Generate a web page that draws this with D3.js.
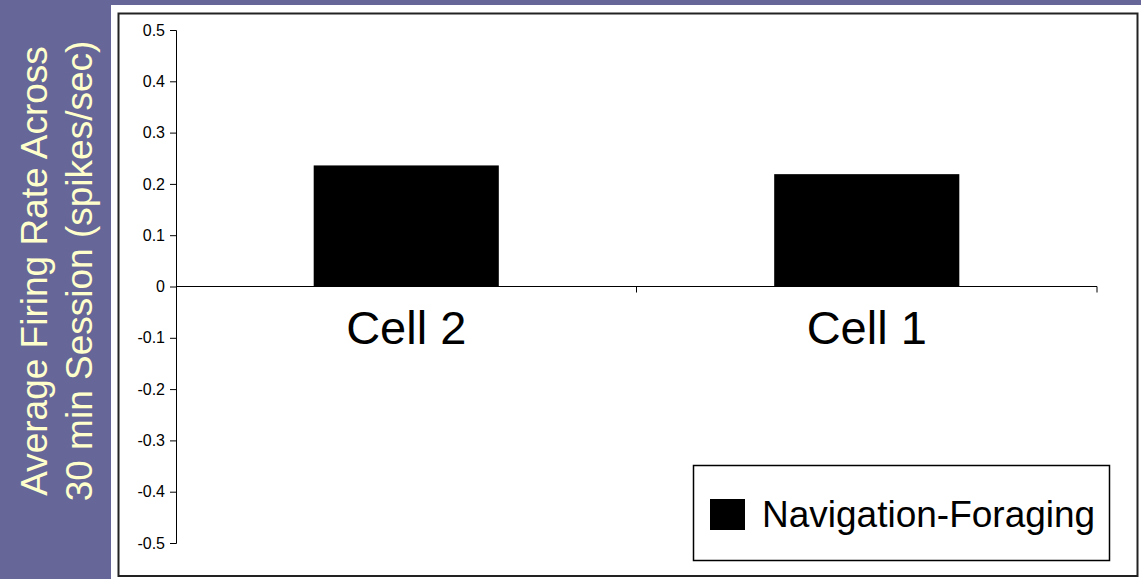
<!DOCTYPE html>
<html>
<head>
<meta charset="utf-8">
<script src="https://cdn.jsdelivr.net/npm/d3@7"></script>
<style>
  html, body { margin: 0; padding: 0; background: #666699; }
  svg { display: block; }
  text { font-family: Arial, "Liberation Sans", sans-serif; }
</style>
</head>
<body>
<svg id="chart" width="1141" height="579"></svg>
<script>
const categories = ["Cell 2", "Cell 1"];
const values = [0.236, 0.219];
const seriesName = "Navigation-Foraging";
const yTicks = [0.5, 0.4, 0.3, 0.2, 0.1, 0, -0.1, -0.2, -0.3, -0.4, -0.5];
const titleLines = ["Average Firing Rate Across", "30 min Session (spikes/sec)"];

const svg = d3.select("#chart");

// background panels
svg.append("rect").attr("x", 0).attr("y", 0).attr("width", 1141).attr("height", 579).attr("fill", "#666699");
svg.append("rect").attr("x", 111).attr("y", 5).attr("width", 1030).attr("height", 574).attr("fill", "#ffffff");
svg.append("rect").attr("x", 118.5).attr("y", 13.5).attr("width", 1019).attr("height", 562.5)
  .attr("fill", "#ffffff").attr("stroke", "#222").attr("stroke-width", 2);

// y title
const title = svg.append("g").attr("transform", "translate(0,271) rotate(-90)");
titleLines.forEach((t, i) => {
  title.append("text")
    .attr("x", 0).attr("y", 47 + i * 45)
    .attr("text-anchor", "middle")
    .attr("font-size", 37)
    .attr("fill", "#ffffcc")
    .text(t);
});

const x = d3.scaleBand().domain(categories).range([176, 1097]).paddingInner(0.598).paddingOuter(0.299);
const y = d3.scaleLinear().domain([-0.5, 0.5]).range([543, 30]);

// bars
svg.append("g").selectAll("rect").data(categories).join("rect")
  .attr("x", d => x(d))
  .attr("width", x.bandwidth())
  .attr("y", (d, i) => y(Math.max(0, values[i])))
  .attr("height", (d, i) => Math.abs(y(values[i]) - y(0)))
  .attr("fill", "#000");

// y axis
const yAxis = svg.append("g").attr("transform", "translate(176,0)")
  .call(d3.axisLeft(y).tickValues(yTicks).tickSize(6).tickPadding(5)
    .tickFormat(d => d === 0 ? "0" : String(d)));
yAxis.select(".domain").attr("stroke", "#000").attr("stroke-width", 1);
yAxis.selectAll(".tick line").attr("stroke", "#000");
yAxis.selectAll("text").attr("font-size", 16).attr("fill", "#000")
  .attr("font-family", "Arial, 'Liberation Sans', sans-serif");

// x axis at zero
const step = x.step();
const x0 = x.range()[0];
const bounds = [x0 + step, x0 + 2 * step];
svg.append("line").attr("x1", 176).attr("x2", 1097).attr("y1", y(0)).attr("y2", y(0))
  .attr("stroke", "#000").attr("stroke-width", 1);
svg.append("g").selectAll("line").data(bounds).join("line")
  .attr("x1", d => d).attr("x2", d => d)
  .attr("y1", y(0)).attr("y2", y(0) + 6)
  .attr("stroke", "#000").attr("stroke-width", 1);

// category labels
svg.append("g").selectAll("text").data(categories).join("text")
  .attr("x", d => x(d) + x.bandwidth() / 2)
  .attr("y", 344)
  .attr("text-anchor", "middle")
  .attr("font-size", 47)
  .attr("fill", "#000")
  .text(d => d);

// legend
const lg = svg.append("g");
lg.append("rect").attr("x", 693.5).attr("y", 465.5).attr("width", 416).attr("height", 95)
  .attr("fill", "#fff").attr("stroke", "#000").attr("stroke-width", 1.5);
lg.append("rect").attr("x", 710).attr("y", 499).attr("width", 35).attr("height", 31).attr("fill", "#000");
lg.append("text").attr("x", 762).attr("y", 527).attr("font-size", 37).attr("fill", "#000").text(seriesName);
</script>
</body>
</html>
